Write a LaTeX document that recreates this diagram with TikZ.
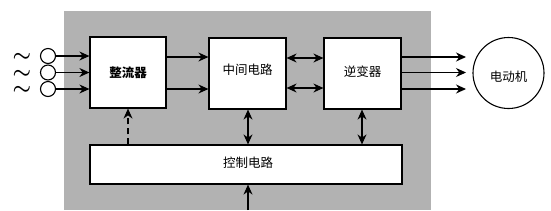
\documentclass[tikz,border=0pt]{standalone}
\usepackage{fontspec}
\newfontfamily\cjk{Noto Sans CJK SC}
\usetikzlibrary{arrows.meta}
\begin{document}
\begin{tikzpicture}[x=1pt,y=-1pt,
  box/.style={draw=black,line width=1.2pt,fill=white,inner sep=0pt},
  lbl/.style={font=\cjk\fontsize{12.5}{14}\selectfont},
  arr/.style={line width=1.1pt,-{Stealth[length=10pt,width=9pt]}},
  darr/.style={line width=1.1pt,{Stealth[length=10pt,width=9pt]}-{Stealth[length=10pt,width=9pt]}},
  inc/.style={circle,draw=black,line width=1.1pt,minimum size=15pt,inner sep=0pt},
  tld/.style={font=\fontsize{22}{22}\selectfont\boldmath,inner sep=0pt}]
\useasboundingbox (0,0) rectangle (551,210);
\fill[white] (0,0) rectangle (551,210);
\fill[gray!60] (64,11) rectangle (431,210);
% boxes
\node[box,minimum width=76pt,minimum height=71pt] (rect) at (128,72.5) {};
\node[lbl,font=\cjk\bfseries\fontsize{12.5}{14}\selectfont] at (rect.center) {整流器};
\node[box,minimum width=77pt,minimum height=71pt] (mid) at (247.5,73.5) {};
\node[lbl,anchor=center] at (247.5,70) {中间电路};
\node[box,minimum width=77pt,minimum height=71pt] (inv) at (362.5,73.5) {};
\node[lbl] at (362.5,72) {逆变器};
\node[box,minimum width=312pt,minimum height=39pt] (ctl) at (246,164.5) {};
\node[lbl] at (248,163) {控制电路};
% motor
\node[circle,draw=black,line width=1.1pt,minimum size=71pt,inner sep=0pt] (mot) at (508.5,73) {};
\node[lbl] at (508.5,77) {电动机};
% inputs
\foreach \i/\y in {1/56,2/72.5,3/89}{
  \node[inc] (c\i) at (48,\y) {};
  \node[tld] (t\i) at (22,\y) {\smash{\raisebox{-0.25em}{$\sim$}}};
  \coordinate (r\i) at (rect.west |- c\i);
  \draw[arr] (c\i.east) -- (r\i);
}
% rectifier -> middle
\foreach \y in {57,89}{
  \coordinate (a) at (rect.east |- 0,\y);
  \coordinate (b) at (mid.west |- 0,\y);
  \draw[arr] (a) -- (b);
}
% middle <-> inverter
\foreach \y in {58,88}{
  \coordinate (a) at (mid.east |- 0,\y);
  \coordinate (b) at (inv.west |- 0,\y);
  \draw[darr] (a) -- (b);
}
% inverter -> motor
\foreach \y in {57,72.5,89}{
  \coordinate (a) at (inv.east |- 0,\y);
  \coordinate (b) at (466,\y);
  \draw[arr] (a) -- (b);
}
% control links
\coordinate (d1) at (128,0 |- ctl.north);
\draw[arr,dashed,dash pattern=on 6pt off 4pt] (d1) -- (rect.south);
\coordinate (m1) at (248,0 |- mid.south);
\coordinate (m2) at (248,0 |- ctl.north);
\draw[darr] (m1) -- (m2);
\coordinate (i1) at (362,0 |- inv.south);
\coordinate (i2) at (362,0 |- ctl.north);
\draw[darr] (i1) -- (i2);
\coordinate (bt) at (248,210);
\coordinate (cb) at (248,0 |- ctl.south);
\draw[arr] (bt) -- (cb);
\end{tikzpicture}
\end{document}
